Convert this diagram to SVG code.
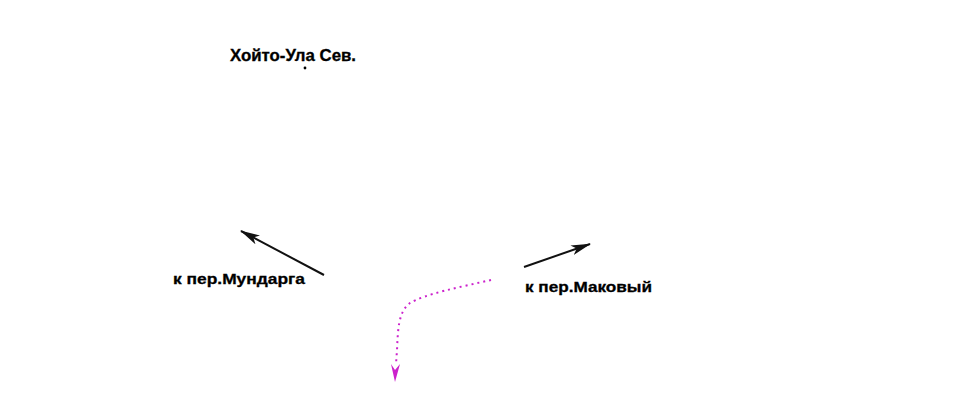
<svg xmlns="http://www.w3.org/2000/svg" width="966" height="400" viewBox="0 0 966 400">
<style>
.lbl{font-family:"Liberation Sans",Arial,sans-serif;font-weight:bold;font-size:15px;fill:#000;stroke:#000;stroke-width:0.3}
.arr{stroke:#111;stroke-width:2;fill:none}
.mag{stroke:#cc22cc;stroke-width:2;fill:none;stroke-dasharray:2 4}
</style>
<defs>
<marker id="ah" viewBox="0 0 20 10" refX="19" refY="5" markerWidth="20" markerHeight="10" markerUnits="userSpaceOnUse" orient="auto">
<path d="M0,0 L20,5 L0,10 L5,5 Z" fill="#111"/>
</marker>
</defs>
<rect width="966" height="400" fill="#fff"/>
<g id="node-hoito">
<text class="lbl" x="230" y="61" textLength="126" lengthAdjust="spacingAndGlyphs" style="font-size:16px">Хойто-Ула Сев.</text>
<circle cx="305" cy="68" r="1.4" fill="#000"/>
</g>
<g id="node-mundarga">
<text class="lbl" x="173" y="284" textLength="132" lengthAdjust="spacingAndGlyphs">к пер.Мундарга</text>
</g>
<g id="node-makovy">
<text class="lbl" x="525" y="292" textLength="127" lengthAdjust="spacingAndGlyphs">к пер.Маковый</text>
</g>
<g id="connectors">
<line class="arr" x1="324" y1="275" x2="241" y2="231" marker-end="url(#ah)"/>
<line class="arr" x1="524" y1="267" x2="590" y2="244" marker-end="url(#ah)"/>
<path class="mag" d="M491,280 C460,287 425,294 410,303 C398,312 398,330 397,350 L396,364"/>
<path d="M391,364 L395,382 L400,364 L395,370 Z" fill="#cc22cc"/>
</g>
</svg>
